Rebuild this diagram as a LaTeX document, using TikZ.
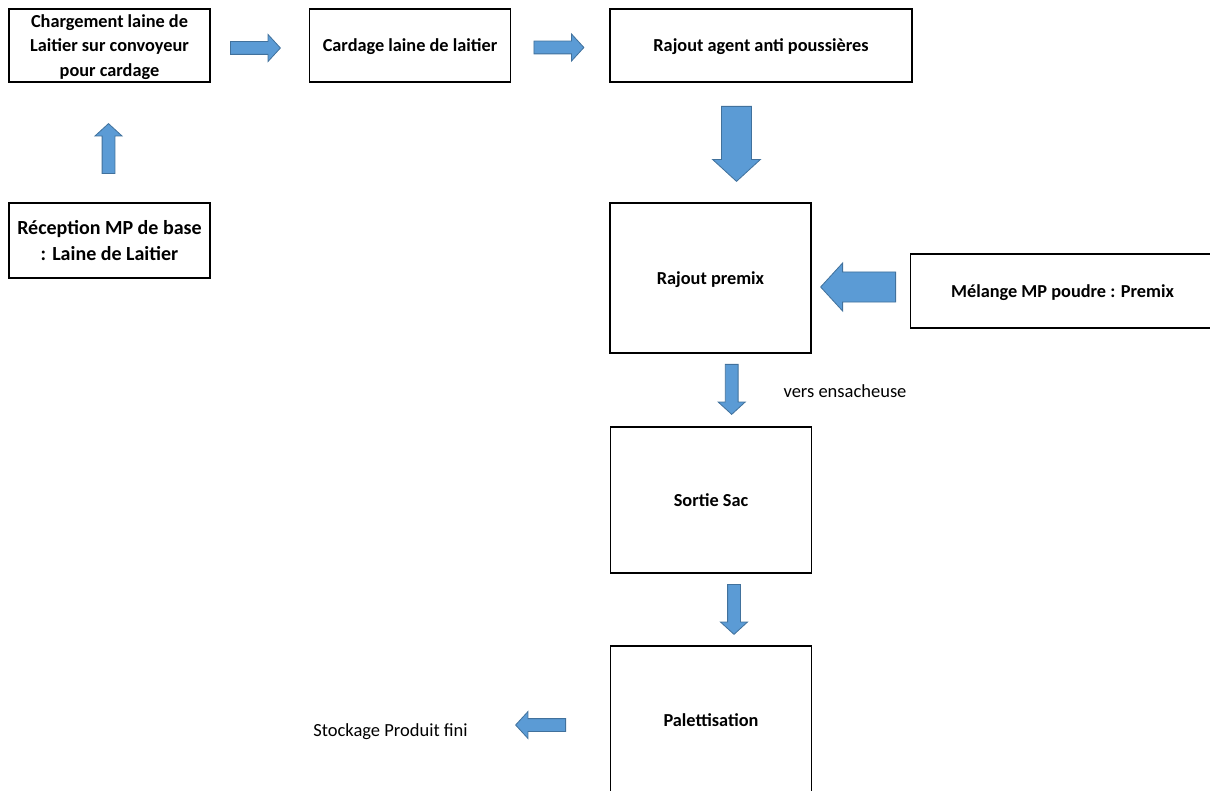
\documentclass[tikz,border=0pt]{standalone}
\usepackage{fontspec}
\setmainfont{Carlito}
\usepackage{tikz}
\usetikzlibrary{shapes.arrows, positioning}
\definecolor{flechebleu}{HTML}{5B9BD5}
\definecolor{flechebord}{HTML}{41719C}

\tikzset{
  etape/.style={draw=black, line width=1.7pt, align=center, inner sep=0pt, text depth=0pt,
    font=\bfseries\fontsize{18.3}{24.5}\selectfont},
  fleche/.style={single arrow, draw=flechebord, fill=flechebleu, line width=0.8pt,
    inner xsep=0pt, inner ysep=6pt, minimum height=50pt, minimum width=25pt,
    single arrow tip angle=95, anchor=tail},
  grandefleche/.style={fleche, inner ysep=11.5pt, minimum height=75pt, minimum width=48pt},
  legende/.style={font=\fontsize{18.5}{22}\selectfont}
}

\begin{document}
\begin{tikzpicture}[x=1pt, y=-1pt]
    \useasboundingbox (0,0) rectangle (1210,791);

    % etapes du procede
    \node[etape, minimum width=201pt, minimum height=73pt] (chargement) at (109.5,45.5)
      {Chargement laine de\\Laitier sur convoyeur\\pour cardage};
    \node[etape, minimum width=201pt, minimum height=73pt] (cardage) at (410,45.5)
      {Cardage laine de laitier};
    \node[etape, minimum width=302pt, minimum height=73pt] (agent) at (761,45.5)
      {Rajout agent anti poussières};
    \node[etape, minimum width=201pt, minimum height=75pt,
          font=\bfseries\fontsize{20}{25.7}\selectfont] (reception) at (109.5,240.8)
      {Réception MP de base\\: Laine de Laitier};
    \node[etape, minimum width=201pt, minimum height=150pt] (premix) at (710.5,278.3)
      {Rajout premix};
    \node[etape, minimum width=304pt, minimum height=74pt] (melange) at (1062.5,291)
      {Mélange MP poudre : Premix};
    \node[etape, minimum width=201pt, minimum height=146pt] (sortie) at (711,500)
      {Sortie Sac};
    \node[etape, minimum width=201pt, minimum height=148pt] (palett) at (711,720)
      {Palettisation};

    % fleches
    \node[fleche] (f1) at (230,48) {};
    \node[fleche] (f2) at (533.5,47.5) {};
    \node[fleche, rotate=90] (f3) at (108.5,174) {};
    \node[grandefleche, rotate=-90] (f4) at (736.5,106) {};
    \node[grandefleche, rotate=180] (f5) at (896,287) {};
    \node[fleche, rotate=-90] (f6) at (731.7,364) {};
    \node[fleche, rotate=-90] (f7) at (734,584) {};
    \node[fleche, rotate=180] (f8) at (566,725) {};

    % textes libres
    \node[legende] (ensacheuse) at (845,391) {vers ensacheuse};
    \node[legende] (stockage) at (390.5,732) {Stockage Produit fini};
\end{tikzpicture}
\end{document}
